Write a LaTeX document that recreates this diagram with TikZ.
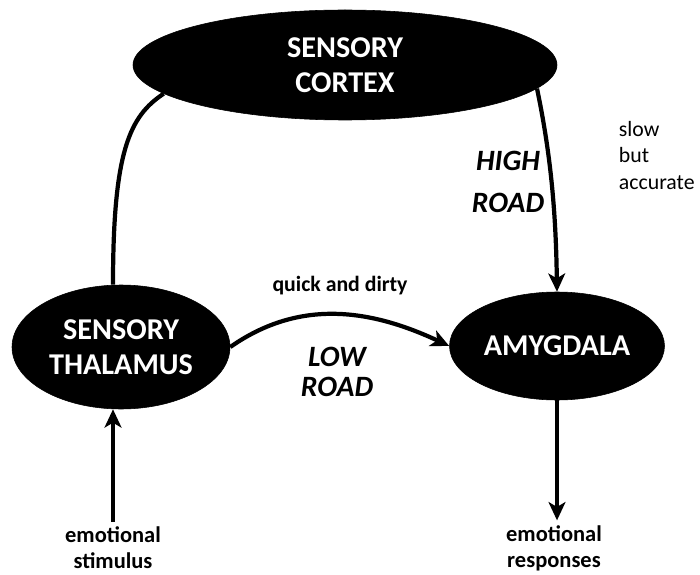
\documentclass[tikz,border=0pt]{standalone}
\usepackage{fontspec}
\setmainfont{Carlito}
\usetikzlibrary{arrows.meta, positioning, shapes.geometric}

\tikzset{
  region/.style={draw, ellipse, fill=black, text=white, font=\bfseries\fontsize{21.5}{25}\selectfont, align=center, inner sep=0pt},
  road/.style={font=\bfseries\itshape\fontsize{21}{30}\selectfont, align=center},
  note/.style={font=\bfseries\fontsize{16}{18.5}\selectfont, align=center},
  path/.style={line width=3pt},
  flow/.style={line width=3pt, -{Stealth[length=13pt, width=12pt, inset=3.5pt]}}
}

\begin{document}
\begin{tikzpicture}
        \useasboundingbox (0,0) rectangle (17.5,-14.35);
        % Main components
        \node[region, minimum width=10.6cm, minimum height=2.75cm] (cortex) at (8.625,-1.625) {SENSORY\\CORTEX};
        \node[region, minimum width=5.45cm, minimum height=3.1cm] (thal) at (3.025,-8.675) {SENSORY\\THALAMUS};
        \node[region, minimum width=5.375cm, minimum height=2.7cm] (amyg) at (13.925,-8.65) {AMYGDALA};

        % Inputs and outputs
        \node[note] (stim) at (2.825,-13.7) {emotional\\stimulus};
        \node[note] (resp) at (13.85,-13.7) {emotional\\responses};

        % Labels
        \node[note, font=\bfseries\fontsize{15.5}{18}\selectfont] (quick) at (8.5,-7.15) {quick and dirty};
        \node[road, font=\bfseries\itshape\fontsize{21}{21.5}\selectfont] (low) at (8.425,-9.3) {LOW\\ROAD};
        \node[road] (high) at (12.7,-4.55) {HIGH\\ROAD};
        \node[font=\fontsize{15.5}{19}\selectfont, align=left, anchor=north west] (slow) at (15.35,-2.9) {slow\\but\\accurate};

        % Connectors
        \draw[path] (thal.north -| stim.north) .. controls (2.825,-3.75) and (3.25,-2.9) .. (cortex.-171);
        \draw[flow] (cortex.-7) .. controls (13.8,-4) and (13.9,-5.5) .. (amyg.north);
        \draw[flow] (thal.east) to[out=35, in=155] (amyg.west);
        \draw[flow] (stim.north) -- (stim.north |- thal.south);
        \draw[flow] (amyg.south) -- (resp.north -| amyg.south);
    \end{tikzpicture}
\end{document}
